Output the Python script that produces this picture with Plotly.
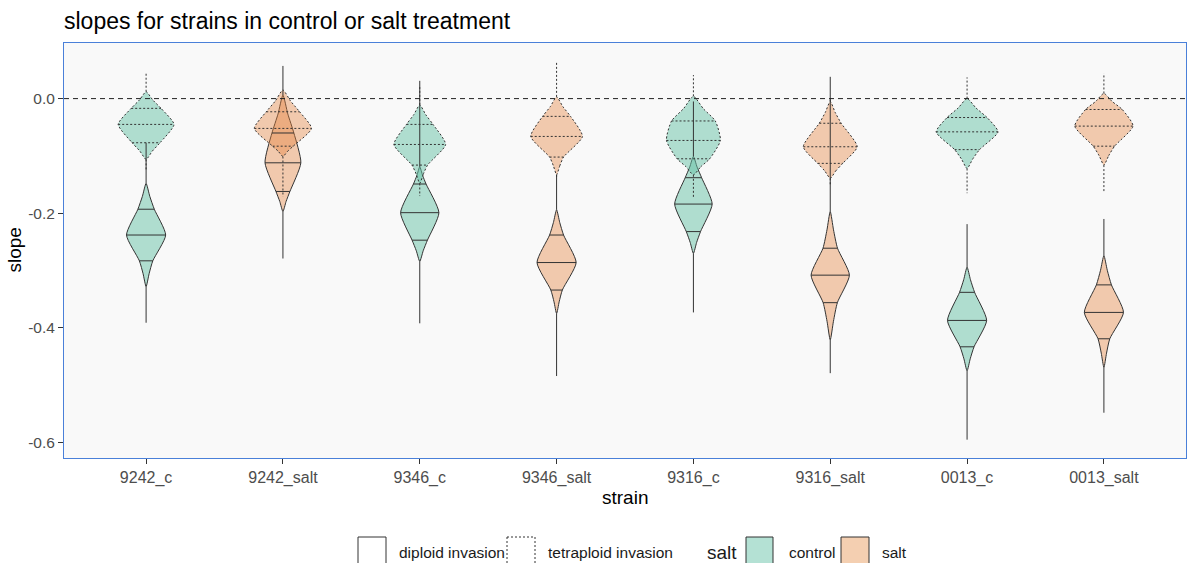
import plotly.graph_objects as go

# ---------------- data ----------------
strains = ["9242_c", "9242_salt", "9346_c", "9346_salt",
           "9316_c", "9316_salt", "0013_c", "0013_salt"]
treatment = ["control", "salt", "control", "salt",
             "control", "salt", "control", "salt"]

# diploid invasion violins: extent, quartiles, half-widths (x-axis units)
dip_top = [-0.148, 0.006, -0.119, -0.194, -0.101, -0.197, -0.294, -0.274]
dip_q3 = [-0.193, -0.060, -0.149, -0.238, -0.138, -0.261, -0.338, -0.325]
dip_med = [-0.238, -0.112, -0.199, -0.286, -0.184, -0.308, -0.387, -0.373]
dip_q1 = [-0.283, -0.162, -0.247, -0.334, -0.232, -0.356, -0.433, -0.419]
dip_bot = [-0.328, -0.197, -0.284, -0.375, -0.270, -0.421, -0.475, -0.469]
dip_w_q3 = [0.060, 0.080, 0.046, 0.051, 0.060, 0.053, 0.055, 0.055]
dip_w_med = [0.143, 0.131, 0.140, 0.143, 0.137, 0.140, 0.143, 0.143]
dip_w_q1 = [0.049, 0.051, 0.056, 0.042, 0.052, 0.052, 0.051, 0.043]
dip_whisk_hi = [-0.077, 0.057, 0.031, -0.133, -0.005, 0.038, -0.219, -0.210]
dip_whisk_lo = [-0.391, -0.279, -0.392, -0.484, -0.373, -0.479, -0.595, -0.548]

# tetraploid invasion violins
tet_top = [0.012, 0.015, -0.011, 0.003, 0.004, -0.005, 0.000, 0.009]
tet_q3 = [-0.017, -0.023, -0.045, -0.031, -0.039, -0.043, -0.033, -0.019]
tet_med = [-0.045, -0.052, -0.080, -0.066, -0.073, -0.084, -0.058, -0.048]
tet_q1 = [-0.077, -0.083, -0.116, -0.102, -0.105, -0.113, -0.089, -0.083]
tet_bot = [-0.106, -0.101, -0.148, -0.133, -0.133, -0.139, -0.122, -0.116]
tet_w_q3 = [0.109, 0.122, 0.097, 0.102, 0.160, 0.080, 0.146, 0.134]
tet_w_med = [0.204, 0.209, 0.189, 0.189, 0.197, 0.197, 0.226, 0.213]
tet_w_q1 = [0.102, 0.075, 0.057, 0.051, 0.119, 0.091, 0.091, 0.078]
tet_whisk_hi = [0.044, 0.010, 0.020, 0.065, 0.041, 0.000, 0.037, 0.044]
tet_whisk_lo = [-0.125, -0.171, -0.170, -0.140, -0.174, -0.150, -0.165, -0.163]

y_ticks = [0.0, -0.2, -0.4, -0.6]
y_tick_labels = ["0.0", "-0.2", "-0.4", "-0.6"]

# ---------------- styles ----------------
FONT = "Liberation Sans, Arial, sans-serif"
FILL = {"control": "rgba(102,194,165,0.50)", "salt": "rgba(230,130,60,0.40)"}
LEGEND_FILL = {"control": "#B4E1D4", "salt": "#F4CFB1"}
EDGE = "#333333"
DASH = {"diploid": "solid", "tetraploid": "2px,2px"}
TAIL = 0.45
PANEL_BORDER = "#4A80D9"

fig = go.Figure()


def violin_outline(i, top, q3, med, q1, bot, wq3, wmed, wq1):
    ys = [bot, (bot + q1) / 2, q1, med, q3, (q3 + top) / 2, top]
    ws = [0, TAIL * wq1, wq1, wmed, wq3, TAIL * wq3, 0]
    xr = [i + w for w in ws]
    xl = [i - w for w in reversed(ws)]
    return xr + xl[1:], ys + list(reversed(ys))[1:]


groups = [
    ("diploid", dip_top, dip_q3, dip_med, dip_q1, dip_bot,
     dip_w_q3, dip_w_med, dip_w_q1, dip_whisk_hi, dip_whisk_lo),
    ("tetraploid", tet_top, tet_q3, tet_med, tet_q1, tet_bot,
     tet_w_q3, tet_w_med, tet_w_q1, tet_whisk_hi, tet_whisk_lo),
]

# violin bodies
for i, s in enumerate(strains):
    for g in groups:
        kind, top, q3, med, q1, bot, wq3, wmed, wq1, _, _ = g
        x, y = violin_outline(i, top[i], q3[i], med[i], q1[i], bot[i],
                              wq3[i], wmed[i], wq1[i])
        fig.add_trace(go.Scatter(
            x=x, y=y, mode="lines", fill="toself",
            fillcolor=FILL[treatment[i]],
            line=dict(color=EDGE, width=1, dash=DASH[kind],
                      shape="spline", smoothing=0.6),
            showlegend=False, hoverinfo="skip"))

# quartile lines
for i, s in enumerate(strains):
    for g in groups:
        kind, top, q3, med, q1, bot, wq3, wmed, wq1, _, _ = g
        for yv, w in ((q3[i], wq3[i]), (med[i], wmed[i]), (q1[i], wq1[i])):
            fig.add_trace(go.Scatter(
                x=[i - w, i + w], y=[yv, yv], mode="lines",
                line=dict(color=EDGE, width=1, dash=DASH[kind]),
                showlegend=False, hoverinfo="skip"))

# whiskers (outside each violin's own body)
for i, s in enumerate(strains):
    for g in groups:
        kind, top, q3, med, q1, bot, wq3, wmed, wq1, whi, wlo = g
        if whi[i] > top[i]:
            fig.add_trace(go.Scatter(
                x=[i, i], y=[top[i], whi[i]], mode="lines",
                line=dict(color=EDGE, width=1, dash=DASH[kind]),
                showlegend=False, hoverinfo="skip"))
        if wlo[i] < bot[i]:
            fig.add_trace(go.Scatter(
                x=[i, i], y=[bot[i], wlo[i]], mode="lines",
                line=dict(color=EDGE, width=1, dash=DASH[kind]),
                showlegend=False, hoverinfo="skip"))

# ---------------- layout ----------------
W, H = 1193, 563
L, R, T, B = 64, 7, 43, 105
PW, PH = W - L - R, H - T - B


def px(xp):
    return (xp - L) / PW


def py(yp):
    return (H - B - yp) / PH


fig.update_layout(
    width=W, height=H, autosize=False,
    margin=dict(l=L, r=R, t=T, b=B),
    paper_bgcolor="white", plot_bgcolor="#F9F9F9",
    font=dict(family=FONT, color="#1A1A1A"),
    title=dict(text="slopes for strains in control or salt treatment",
               x=0, xref="paper", xanchor="left",
               y=1 - 21 / H, yanchor="middle",
               font=dict(size=23, color="black", family=FONT)),
    showlegend=False,
    xaxis=dict(range=[-0.6, 7.6], tickvals=list(range(len(strains))),
               ticktext=strains, ticks="outside", ticklen=5,
               tickcolor="#333333", showgrid=False, zeroline=False,
               showline=True, linecolor=PANEL_BORDER, linewidth=1,
               mirror=True,
               tickfont=dict(size=16, color="#4D4D4D", family=FONT)),
    yaxis=dict(range=[-0.627, 0.097], tickvals=y_ticks,
               ticktext=y_tick_labels,
               ticks="outside", ticklen=5, tickcolor="#333333",
               showgrid=False, zeroline=False, showline=True,
               linecolor=PANEL_BORDER, linewidth=1, mirror=True,
               tickfont=dict(size=15.5, color="#4D4D4D", family=FONT)),
)

# zero reference line
fig.add_shape(type="line", xref="paper", yref="y", x0=0, x1=1, y0=0, y1=0,
              line=dict(color="#222222", width=1, dash="5px,4px"))

# axis titles
fig.add_annotation(text="strain", x=0.5, y=py(497), xref="paper",
                   yref="paper", xanchor="center", yanchor="middle",
                   showarrow=False,
                   font=dict(size=19, color="black", family=FONT))
fig.add_annotation(text="slope", x=px(14), y=0.5, xref="paper", yref="paper",
                   xanchor="center", yanchor="middle", showarrow=False,
                   textangle=-90,
                   font=dict(size=19, color="black", family=FONT))

# manual legend
legend_boxes = [
    (358, 386, "white", "solid"),
    (507, 535, "white", "2px,2px"),
    (746, 773, LEGEND_FILL["control"], "solid"),
    (841, 869, LEGEND_FILL["salt"], "solid"),
]
for x0, x1, fc, dash in legend_boxes:
    fig.add_shape(type="rect", xref="paper", yref="paper",
                  x0=px(x0), x1=px(x1), y0=py(537), y1=py(568),
                  fillcolor=fc, line=dict(color=EDGE, width=1, dash=dash),
                  layer="above")
legend_texts = [
    (397, "diploid invasion", 15.5),
    (546, "tetraploid invasion", 15.5),
    (705, "salt", 19),
    (787, "control", 15.5),
    (880, "salt", 15.5),
]
for x0, t, fs in legend_texts:
    fig.add_annotation(text=t, x=px(x0), y=py(552), xref="paper",
                       yref="paper", xanchor="left", yanchor="middle",
                       showarrow=False,
                       font=dict(size=fs, color="#1A1A1A", family=FONT))

fig.write_html("out.html",
               config={"displayModeBar": False},
               post_script="document.body.style.margin='0px';"
                           "document.body.style.overflow='hidden';")
